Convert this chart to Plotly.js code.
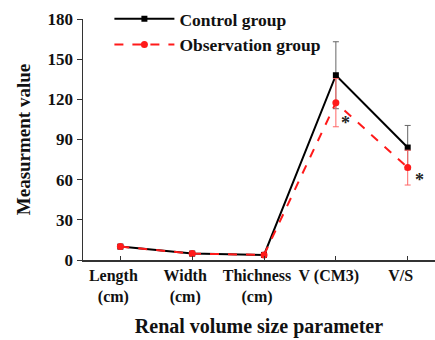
<!DOCTYPE html>
<html>
<head>
<meta charset="utf-8">
<script src="https://cdn.plot.ly/plotly-3.0.1.min.js"></script>
<style>html,body{margin:0;padding:0;background:#fff;}#chart{width:435px;height:340px;}</style>
</head>
<body>
<div id="chart"></div>
<script>
const categories = ["Length (cm)", "Width (cm)", "Thichness (cm)", "V (CM3)", "V/S"];
const tickLabels = ["Length<br>(cm)", "Width<br>(cm)", "Thichness<br>(cm)", "V (CM3)", "V/S"];
const controlValues = [10, 4.8, 3.8, 138, 84];
const controlErrors = [0, 0, 0, 25, 16.5];
const observationValues = [10, 4.8, 3.8, 117.5, 69];
const observationErrors = [0, 0, 0, 18, 13];
const yTicks = [0, 30, 60, 90, 120, 150, 180];

const serif = "Liberation Serif, Times New Roman, serif";

const traces = [
  {
    x: categories, y: controlValues, name: "Control group", type: "scatter", mode: "lines+markers",
    line: {color: "#000", width: 2},
    marker: {symbol: "square", size: 6, color: "#000"},
    error_y: {type: "data", array: controlErrors, visible: true, color: "#666", thickness: 1, width: 3}
  },
  {
    x: categories, y: observationValues, name: "Observation group", type: "scatter", mode: "lines+markers",
    line: {color: "#ff1a1a", width: 2, dash: "dash"},
    marker: {symbol: "circle", size: 7, color: "#ff1a1a"},
    error_y: {type: "data", array: observationErrors, visible: true, color: "#ff6666", thickness: 1, width: 3}
  }
];

const layout = {
  width: 435, height: 340,
  margin: {l: 83, r: 0, t: 19, b: 80},
  paper_bgcolor: "#fff", plot_bgcolor: "#fff",
  font: {family: serif, color: "#111"},
  showlegend: true,
  legend: {
    x: 0.075, y: 1.075, xanchor: "left", yanchor: "top",
    bgcolor: "rgba(0,0,0,0)", itemwidth: 60, tracegroupgap: 0,
    font: {family: serif, size: 17.5, color: "#111", weight: "bold"}
  },
  xaxis: {
    type: "category", range: [-0.52, 4.38],
    tickvals: categories, ticktext: tickLabels, tickangle: 0, ticklabelshift: -7,
    showline: true, linecolor: "#333", linewidth: 1.5,
    ticks: "inside", ticklen: 4, tickcolor: "#333",
    showgrid: false, zeroline: false,
    tickfont: {family: serif, size: 16, color: "#111", weight: "bold"},
    title: {text: "Renal volume size parameter", font: {family: serif, size: 20, color: "#111", weight: "bold"}, standoff: 14}
  },
  yaxis: {
    range: [0, 180], tickvals: yTicks,
    showline: true, linecolor: "#333", linewidth: 1.5,
    ticks: "outside", ticklen: 5, tickcolor: "#333",
    showgrid: false, zeroline: false,
    tickfont: {family: serif, size: 17, color: "#111", weight: "bold"},
    title: {text: "Measurment value", font: {family: serif, size: 19, color: "#111", weight: "bold"}, standoff: 12}
  },
  annotations: [
    {x: "V (CM3)", y: 117.5, xref: "x", yref: "y", text: "*", showarrow: false, xshift: 10, yshift: -20,
     font: {family: serif, size: 18, color: "#222", weight: "bold"}},
    {x: "V/S", y: 69, xref: "x", yref: "y", text: "*", showarrow: false, xshift: 12, yshift: -12,
     font: {family: serif, size: 18, color: "#222", weight: "bold"}}
  ]
};

Plotly.newPlot("chart", traces, layout, {displayModeBar: false, staticPlot: true});
</script>
</body>
</html>
